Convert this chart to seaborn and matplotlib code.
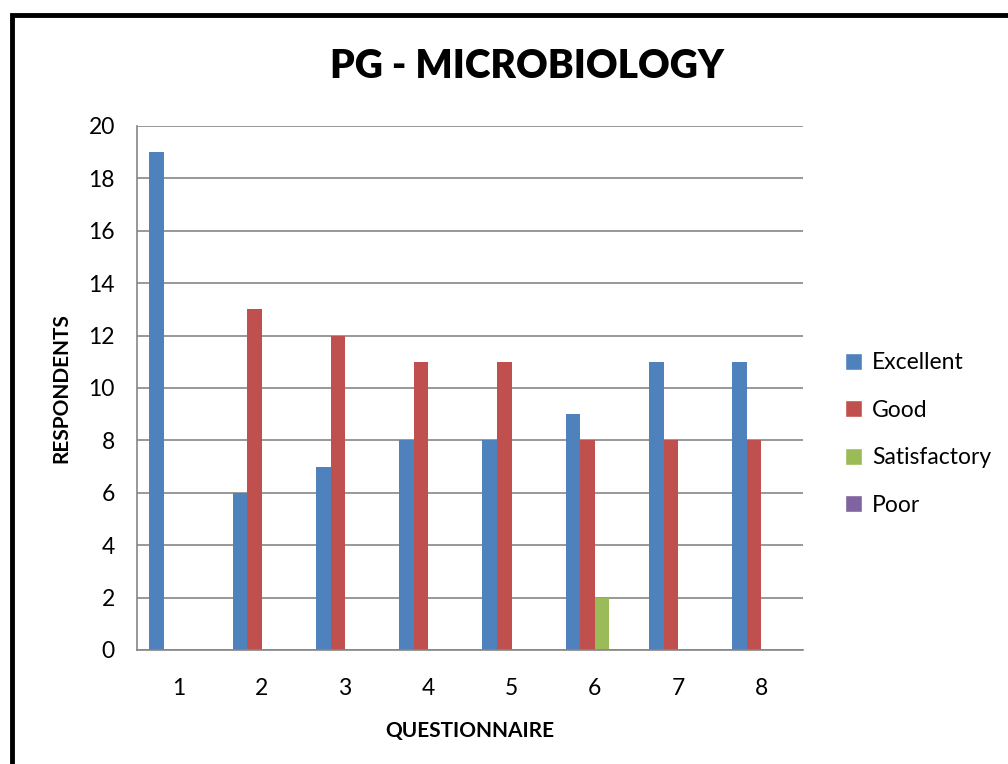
import matplotlib
matplotlib.use("Agg")
import matplotlib.pyplot as plt
import pandas as pd
import seaborn as sns
from matplotlib.patches import Patch

# =============================================================================
# data
# =============================================================================
questions = ["1", "2", "3", "4", "5", "6", "7", "8"]
ratings = ["Excellent", "Good", "Satisfactory", "Poor"]
excellent = [19, 6, 7, 8, 8, 9, 11, 11]
good = [0, 13, 12, 11, 11, 8, 8, 8]
satisfactory = [0, 0, 0, 0, 0, 2, 0, 0]
poor = [0, 0, 0, 0, 0, 0, 0, 0]
colors = ["#4f81bd", "#c0504d", "#9bbb59", "#8064a2"]

df = pd.DataFrame({"Excellent": excellent, "Good": good,
                   "Satisfactory": satisfactory, "Poor": poor}, index=questions)
df = df.reset_index().rename(columns={"index": "Question"})
long = df.melt(id_vars="Question", var_name="Rating", value_name="Respondents")

sns.set_style("white")
plt.rcParams['font.family'] = ['Lato', 'DejaVu Sans']
plt.rcParams['text.color'] = 'black'
plt.rcParams['xtick.color'] = 'black'
plt.rcParams['ytick.color'] = 'black'
plt.rcParams['axes.labelcolor'] = 'black'

fig = plt.figure(figsize=(10.08, 7.64), dpi=100)
ax = fig.add_axes([137 / 1008, 1 - 650 / 764, 666 / 1008, 524 / 764])

sns.barplot(data=long, x="Question", y="Respondents", hue="Rating",
            hue_order=ratings, palette=colors, width=0.7, saturation=1,
            linewidth=0, ax=ax, legend=False)

ax.set_ylim(0, 20)
ax.set_yticks(range(0, 21, 2))
ax.set_xlim(-0.5, 7.5)
ax.yaxis.grid(True, color="#868686", linewidth=1.2)
ax.set_axisbelow(True)
for s in ["top", "right"]:
    ax.spines[s].set_visible(False)
ax.spines["left"].set_color("#868686")
ax.spines["bottom"].set_color("#868686")
ax.spines["left"].set_linewidth(1.2)
ax.spines["bottom"].set_linewidth(1.2)
ax.tick_params(axis="y", length=8, color="#868686", width=1.2, labelsize=16.5,
               labelcolor="black", pad=8)
ax.tick_params(axis="x", length=0, labelsize=16.5, labelcolor="black", pad=20)

ax.set_xlabel("QUESTIONNAIRE", fontsize=15, fontweight="bold", labelpad=16)
ax.set_ylabel("RESPONDENTS", fontsize=15, fontweight="bold", labelpad=12)
fig.text(0.523, 0.913, "PG - MICROBIOLOGY", fontsize=28, fontweight="heavy",
         ha="center", va="center", color="black")

handles = [Patch(facecolor=c, label=r) for c, r in zip(colors, ratings)]
fig.legend(handles=handles, loc="center left", bbox_to_anchor=(824 / 1008, 1 - 434 / 764),
           frameon=False, fontsize=16.5, handlelength=0.75, handleheight=0.75,
           labelspacing=1.15, handletextpad=0.45)

# border (only top/left visible in reference)
fig.patches.append(plt.Rectangle((12 / 1008, -0.1), 1.2, 1.1 - 14.5 / 764,
                                 transform=fig.transFigure, fill=False,
                                 edgecolor="black", linewidth=3.5))

fig.savefig("out.png", dpi=100)
